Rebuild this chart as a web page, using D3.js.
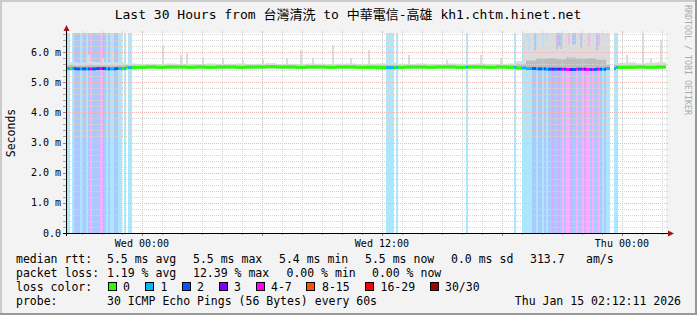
<!DOCTYPE html>
<html>
<head>
<meta charset="utf-8">
<script src="https://cdn.jsdelivr.net/npm/d3@7"></script>
<style>
  body { margin: 0; background: #f3f3f3; }
  svg text { font-family: "DejaVu Sans Mono", monospace; fill: #000; }
  .cjk { font-family: "DejaVu Sans Mono", "Noto Sans CJK TC", monospace; }
</style>
</head>
<body>
<svg id="chart" width="697" height="315"></svg>
<script>
// --- data ---------------------------------------------------------------
const endTime = new Date(2026, 0, 15, 2, 12, 11);
const hoursShown = 30;
const slotMinutes = 6;   // loss / median colour resolution (300 slots)
const binMinutes = 30;   // median / smoke resolution (60 bins)

const lossLabels = ["0", "1", "2", "3", "4-7", "8-15", "16-29", "30/30"];
const lossColors = ["#26ff00", "#00b8ff", "#0059ff", "#7e00ff", "#ff00ff", "#ff5500", "#ff0000", "#a10000"];

// runs of loss classes (index into lossLabels), one char per 6 min slot
const lossRunStart = [0, 160, 165, 200, 224, 228, 274];
const lossRunCodes = [
  "1101222122124222243212112211010110",
  "1111",
  "1",
  "1",
  "1",
  "11111221221212232232424432242243442422421211",
  "11"
];
const medianGapSlots = [272, 273];

// median rtt in ms, one per 30 min
const medianMs = [
  5.45, 5.44, 5.44, 5.45, 5.44, 5.45, 5.48,
  5.49, 5.50, 5.49, 5.50, 5.50, 5.49, 5.50, 5.49,
  5.50, 5.50, 5.49, 5.50, 5.50, 5.51, 5.50, 5.50,
  5.49, 5.50, 5.50, 5.49, 5.50, 5.50, 5.49, 5.49,
  5.48, 5.48, 5.49, 5.50, 5.50, 5.49, 5.50, 5.50,
  5.49, 5.50, 5.50, 5.49, 5.50, 5.49,
  5.47, 5.45, 5.44, 5.43, 5.43, 5.42, 5.43, 5.42, 5.43, 5.45,
  5.49, 5.49, 5.50, 5.49, 5.50
];
const smokeLoMs = [
  5.38, 5.38, 5.38, 5.39, 5.38, 5.39, 5.42,
  5.44, 5.44, 5.44, 5.44, 5.45, 5.44, 5.44, 5.44,
  5.44, 5.45, 5.44, 5.44, 5.44, 5.45, 5.44, 5.44,
  5.44, 5.44, 5.45, 5.44, 5.44, 5.44, 5.44, 5.43,
  5.42, 5.42, 5.43, 5.44, 5.44, 5.44, 5.44, 5.45,
  5.44, 5.44, 5.44, 5.44, 5.44, 5.43,
  5.41, 5.38, 5.37, 5.37, 5.36, 5.36, 5.37, 5.36, 5.37, 5.39,
  5.43, 5.44, 5.44, 5.43, 5.44
];
const smokeMidMs = [
  5.56, 5.55, 5.56, 5.56, 5.55, 5.56, 5.56,
  5.55, 5.56, 5.55, 5.56, 5.56, 5.55, 5.56, 5.55,
  5.56, 5.56, 5.55, 5.56, 5.56, 5.57, 5.56, 5.56,
  5.55, 5.56, 5.56, 5.55, 5.56, 5.56, 5.55, 5.56,
  5.56, 5.57, 5.55, 5.56, 5.56, 5.55, 5.56, 5.56,
  5.55, 5.56, 5.56, 5.55, 5.56, 5.56,
  5.60, 5.72, 5.78, 5.80, 5.76, 5.82, 5.78, 5.80, 5.74, 5.58,
  5.55, 5.56, 5.56, 5.55, 5.56
];
const smokeHiMs = [
  5.66, 5.64, 5.68, 5.66, 5.65, 5.66, 5.62,
  5.60, 5.61, 5.60, 5.62, 5.60, 5.61, 5.60, 5.62,
  5.60, 5.61, 5.62, 5.60, 5.61, 5.63, 5.60, 5.61,
  5.60, 5.62, 5.61, 5.60, 5.61, 5.62, 5.60, 5.61,
  5.62, 5.64, 5.61, 5.60, 5.62, 5.61, 5.60, 5.62,
  5.61, 5.60, 5.62, 5.61, 5.60, 5.62,
  5.70, 6.05, 6.15, 6.20, 6.10, 6.25, 6.15, 6.20, 6.05, 5.68,
  5.64, 5.66, 5.62, 5.65, 5.66
];
// narrow smoke spikes: [slot, max ms]
const smokeSpikes = [
  [11, 5.90], [18, 5.80], [23, 6.00], [48, 6.23], [57, 5.90], [60, 5.96],
  [68, 5.80], [78, 5.80], [88, 5.75], [98, 5.75], [110, 5.80], [117, 6.07],
  [123, 5.80], [133, 6.23], [142, 5.80], [151, 6.07], [171, 5.90], [190, 5.75],
  [207, 5.90], [217, 5.80],
  [229, 6.8], [230, 6.4], [232, 6.8], [233, 6.8], [235, 6.1], [236, 6.8],
  [237, 6.8], [239, 6.8], [240, 6.3], [241, 6.8], [242, 6.8], [243, 6.8],
  [244, 6.8], [246, 6.2], [248, 6.8], [249, 6.8], [250, 6.8], [252, 6.8],
  [254, 6.0], [255, 6.8], [256, 6.8], [258, 6.8], [259, 6.8], [260, 6.8],
  [262, 6.8], [263, 6.8], [264, 6.8], [266, 6.2], [267, 6.8], [268, 6.8],
  [269, 6.8], [270, 6.5], [271, 6.8],
  [280, 5.90], [288, 6.8], [292, 5.80], [297, 6.40]
];

const yTickValues = [0, 1, 2, 3, 4, 5, 6];

const legendRows = [
  ["median rtt:", "5.5 ms avg", "5.5 ms max", "5.4 ms min", "5.5 ms now", "0.0 ms sd", "313.7", "am/s"],
  ["packet loss:", "1.19 % avg", "12.39 % max", "0.00 % min", "0.00 % now"],
  ["loss color:"],
  ["probe:", "30 ICMP Echo Pings (56 Bytes) every 60s"]
];
const titleText = "Last 30 Hours from 台灣清洗 to 中華電信-高雄 kh1.chtm.hinet.net";
const stampText = "Thu Jan 15 02:12:11 2026";

// --- layout -------------------------------------------------------------
const W = 697, H = 315;
const plot = { left: 66, right: 666, top: 33, bottom: 233 };
const legendX = [
  [16, 107, 193, 279, 365, 451, 530, 586],
  [16, 107, 193, 286.5, 372],
  [16],
  [16, 107]
];
const legendY = [263, 277, 291, 305];
const boxX = [108.5, 145.5, 182.5, 219.5, 256.5, 306.5, 365.5, 430.5];
const boxLabelX = [123, 160.5, 197, 234, 271, 322, 380.5, 445];

const svg = d3.select("#chart");

const startTime = new Date(endTime.getTime() - hoursShown * 3600e3);
const x = d3.scaleTime().domain([startTime, endTime]).range([plot.left, plot.right]);
const y = d3.scaleLinear().domain([0, 6.63]).range([plot.bottom, plot.top]).clamp(true);

const slotCount = hoursShown * 60 / slotMinutes;
const slotTime = k => new Date(startTime.getTime() + k * slotMinutes * 60e3);
const binOf = k => Math.floor(k * slotMinutes / binMinutes);

const lossBySlot = new Array(slotCount).fill(0);
lossRunStart.forEach((s, i) => {
  lossRunCodes[i].split("").forEach((c, j) => { lossBySlot[s + j] = +c; });
});
const spikeMap = new Map(smokeSpikes);
const slots = d3.range(slotCount).map(k => ({
  k,
  x0: x(slotTime(k)),
  x1: x(slotTime(k + 1)),
  loss: lossBySlot[k],
  bin: binOf(k),
  gap: medianGapSlots.includes(k)
}));

// background and frame
svg.append("rect").attr("width", W).attr("height", H).attr("fill", "#f3f3f3");
svg.append("path").attr("d", `M0,0H${W}V2H2V${H}H0Z`).attr("fill", "#cbcbcb");
svg.append("path").attr("d", `M${W},${H}H0V${H - 2}H${W - 2}V0H${W}Z`).attr("fill", "#999");

// canvas
svg.append("rect")
  .attr("x", plot.left).attr("y", plot.top)
  .attr("width", plot.right - plot.left).attr("height", plot.bottom - plot.top)
  .attr("fill", "#fff");

// loss background stripes
svg.append("g").selectAll("rect")
  .data(slots.filter(d => d.loss > 0))
  .enter().append("rect")
  .attr("x", d => d.x0).attr("width", d => d.x1 - d.x0)
  .attr("y", plot.top).attr("height", plot.bottom - plot.top)
  .attr("fill", d => lossColors[d.loss])
  .attr("fill-opacity", 0.33);

// smoke
const smokeSlots = slots.filter(d => !d.gap);
svg.append("g").selectAll("rect")
  .data(smokeSlots)
  .enter().append("rect")
  .attr("x", d => d.x0).attr("width", d => d.x1 - d.x0)
  .attr("y", d => y(Math.max(smokeHiMs[d.bin], spikeMap.get(d.k) || 0)))
  .attr("height", d => y(smokeLoMs[d.bin]) - y(Math.max(smokeHiMs[d.bin], spikeMap.get(d.k) || 0)))
  .attr("fill", "#dcdcdc");
svg.append("g").selectAll("rect")
  .data(smokeSlots)
  .enter().append("rect")
  .attr("x", d => d.x0).attr("width", d => d.x1 - d.x0)
  .attr("y", d => y(smokeMidMs[d.bin]))
  .attr("height", d => y(medianMs[d.bin]) - y(smokeMidMs[d.bin]))
  .attr("fill", "#bcbcbc");

// grid
const grid = svg.append("g").attr("stroke-width", 1).attr("shape-rendering", "crispEdges");
const majorCol = "#eab9b9", minorCol = "#d6d6d6";
const yLines = d3.range(1, 34).map(i => i / 5).filter(v => y(v) > plot.top);
yLines.forEach(v => {
  const major = Math.abs(v - Math.round(v)) < 1e-6;
  const yy = Math.round(y(v)) + 0.5;
  const col = major ? majorCol : minorCol;
  grid.append("line").attr("x1", plot.left).attr("x2", plot.right).attr("y1", yy).attr("y2", yy)
    .attr("stroke", col).attr("stroke-dasharray", "1,1");
  grid.append("line").attr("x1", plot.left - 3).attr("x2", plot.left).attr("y1", yy).attr("y2", yy).attr("stroke", major ? "#b08080" : "#a8a8a8");
  grid.append("line").attr("x1", plot.right).attr("x2", plot.right + 2).attr("y1", yy).attr("y2", yy).attr("stroke", col);
});
d3.timeHour.range(startTime, endTime).forEach(t => {
  const major = t.getHours() % 6 === 0;
  const xx = Math.round(x(t)) + 0.5;
  const col = major ? majorCol : minorCol;
  grid.append("line").attr("x1", xx).attr("x2", xx).attr("y1", plot.top).attr("y2", plot.bottom)
    .attr("stroke", col).attr("stroke-dasharray", "1,1");
  grid.append("line").attr("x1", xx).attr("x2", xx).attr("y1", plot.bottom).attr("y2", plot.bottom + (major ? 3 : 2)).attr("stroke", major ? "#b08080" : "#a8a8a8");
  grid.append("line").attr("x1", xx).attr("x2", xx).attr("y1", plot.top - 2).attr("y2", plot.top).attr("stroke", col);
});

// median rtt, coloured by loss
svg.append("g").selectAll("rect")
  .data(slots.filter(d => !d.gap))
  .enter().append("rect")
  .attr("x", d => d.x0).attr("width", d => d.x1 - d.x0)
  .attr("y", d => y(medianMs[d.bin]) - 1.5)
  .attr("height", 3)
  .attr("fill", d => lossColors[d.loss]);

// axes
svg.append("line").attr("x1", plot.left - 3).attr("x2", plot.right + 3)
  .attr("y1", plot.bottom + 0.5).attr("y2", plot.bottom + 0.5).attr("stroke", "#000");
svg.append("line").attr("x1", plot.left + 0.5).attr("x2", plot.left + 0.5)
  .attr("y1", plot.bottom + 3).attr("y2", plot.top - 3).attr("stroke", "#000");
svg.append("path").attr("d", `M${plot.right + 2},${plot.bottom - 2.5}L${plot.right + 8},${plot.bottom + 0.5}L${plot.right + 2},${plot.bottom + 3.5}Z`).attr("fill", "#a31515");
svg.append("path").attr("d", `M${plot.left - 2.5},${plot.top - 2}L${plot.left + 0.5},${plot.top - 8}L${plot.left + 3.5},${plot.top - 2}Z`).attr("fill", "#a31515");

// y labels
svg.append("g").selectAll("text")
  .data(yTickValues)
  .enter().append("text")
  .attr("x", 61).attr("y", d => y(d) + 3.5)
  .attr("text-anchor", "end").attr("font-size", "10px")
  .text(d => d === 0 ? "0.0" : d3.format(".1f")(d) + " m");

// x labels
svg.append("g").selectAll("text")
  .data(x.ticks(d3.timeHour.every(12)))
  .enter().append("text")
  .attr("x", d => x(d)).attr("y", 246.5)
  .attr("text-anchor", "middle").attr("font-size", "10px")
  .text(d => d3.timeFormat("%a %H:%M")(d));

// title and side texts
svg.append("text").attr("class", "cjk").attr("x", 348).attr("y", 19)
  .attr("text-anchor", "middle").attr("font-size", "13px").text(titleText);
svg.append("text").attr("transform", `translate(14.5,133) rotate(-90)`)
  .attr("text-anchor", "middle").attr("font-size", "11.5px").text("Seconds");
svg.append("text").attr("transform", `translate(685,5) rotate(90)`)
  .attr("font-size", "8.3px").style("fill", "#aaa").text("RRDTOOL / TOBI OETIKER");

// legend
legendRows.forEach((row, r) => {
  row.forEach((t, i) => {
    svg.append("text").attr("x", legendX[r][i]).attr("y", legendY[r])
      .attr("font-size", "11.5px").attr("xml:space", "preserve").text(t);
  });
});
lossLabels.forEach((lab, i) => {
  svg.append("rect").attr("x", boxX[i]).attr("y", legendY[2] - 8.5)
    .attr("width", 8).attr("height", 8)
    .attr("fill", lossColors[i]).attr("stroke", "#000");
  svg.append("text").attr("x", boxLabelX[i]).attr("y", legendY[2])
    .attr("font-size", "11.5px").text(lab);
});
svg.append("text").attr("x", 681).attr("y", legendY[3])
  .attr("text-anchor", "end").attr("font-size", "11.5px").text(stampText);
</script>
</body>
</html>
